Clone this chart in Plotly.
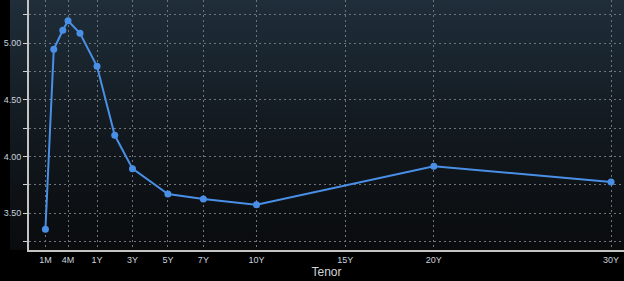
import base64
import numpy as np
import plotly.graph_objects as go

# ---- data ----
TENORS = ["1M", "2M", "3M", "4M", "6M", "1Y", "2Y", "3Y", "5Y", "7Y", "10Y", "20Y", "30Y"]
TENOR_YEARS = [1/12, 2/12, 3/12, 4/12, 6/12, 1, 2, 3, 5, 7, 10, 20, 30]
YIELDS = [3.359, 4.944, 5.112, 5.196, 5.085, 4.795, 4.187, 3.893, 3.670, 3.626, 3.575, 3.914, 3.775]

TICK_LABELS = ["1M", "4M", "1Y", "3Y", "5Y", "7Y", "10Y", "15Y", "20Y", "30Y"]
TICK_YEARS = [1/12, 4/12, 1, 3, 5, 7, 10, 15, 20, 30]

Y_TICKS = [3.25, 3.50, 3.75, 4.00, 4.25, 4.50, 4.75, 5.00, 5.25]

# ---- tenor axis scale (sub-year section is stretched, linear from 1Y) ----
SCALE_YEARS = [1/12, 2/12, 3/12, 4/12, 6/12, 1, 30]
SCALE_AXIS = [-1.91, -1.44, -0.93, -0.635, 0.04, 1, 30]


def tenor_scale(t):
    return np.interp(np.asarray(t, dtype=float), SCALE_YEARS, SCALE_AXIS)


x_pts = tenor_scale(TENOR_YEARS)
x_ticks = tenor_scale(TICK_YEARS)

FONT = "Liberation Sans, Arial, sans-serif"
TXT = "#c9d2dc"
GRID = "#6e747a"

fig = go.Figure()
fig.add_trace(go.Scatter(
    x=x_pts, y=YIELDS, mode="lines+markers",
    line=dict(color="#4a8fe6", width=2),
    marker=dict(color="#4a8fe6", size=7),
    hoverinfo="skip", showlegend=False,
))

W, H = 624, 281
ml, mb = 29, 31
pw, ph = W - ml, H - mb
x0p = (10 - ml) / pw

# gradient background as an SVG image
svg = (
    '<svg xmlns="http://www.w3.org/2000/svg" width="100" height="100" preserveAspectRatio="none">'
    '<defs><linearGradient id="g" x1="0" y1="0" x2="0" y2="1">'
    '<stop offset="0" stop-color="rgb(31,46,58)"/>'
    '<stop offset="0.5" stop-color="rgb(19,26,32)"/>'
    '<stop offset="1" stop-color="rgb(9,11,13)"/>'
    '</linearGradient></defs>'
    '<rect width="100" height="100" fill="url(#g)"/></svg>'
)
src = "data:image/svg+xml;base64," + base64.b64encode(svg.encode()).decode()

fig.add_layout_image(dict(
    source=src, xref="paper", yref="paper",
    x=x0p, y=1, sizex=1 - x0p, sizey=1,
    xanchor="left", yanchor="top", sizing="stretch", layer="below",
))

fig.update_layout(
    width=W, height=H,
    margin=dict(l=ml, r=0, t=0, b=mb),
    paper_bgcolor="#000000", plot_bgcolor="rgba(0,0,0,0)",
    font=dict(family=FONT, color=TXT, size=9),
    xaxis=dict(
        range=[-2.837, 30.73],
        tickvals=x_ticks, ticktext=TICK_LABELS,
        showgrid=True, gridcolor=GRID, griddash="2px,3px", gridwidth=1,
        showline=True, linecolor="#c4c4c4", linewidth=2,
        ticks="", tickfont=dict(size=9, color=TXT),
        title=dict(text="Tenor", font=dict(size=12, color="#d0d4d8"), standoff=2),
        zeroline=False, fixedrange=True,
    ),
    yaxis=dict(
        range=[3.176, 5.379],
        tickvals=Y_TICKS,
        ticktext=[("%.2f" % v) if abs(v * 2 - round(v * 2)) < 1e-9 else "" for v in Y_TICKS],
        showgrid=True, gridcolor=GRID, griddash="2px,3px", gridwidth=1,
        showline=True, linecolor="#c4c4c4", linewidth=2,
        ticks="outside", ticklen=4, tickcolor="#d0d0d0", tickwidth=1,
        tickfont=dict(size=9, color=TXT),
        zeroline=False, fixedrange=True,
    ),
)

fig.write_html("out.html")
